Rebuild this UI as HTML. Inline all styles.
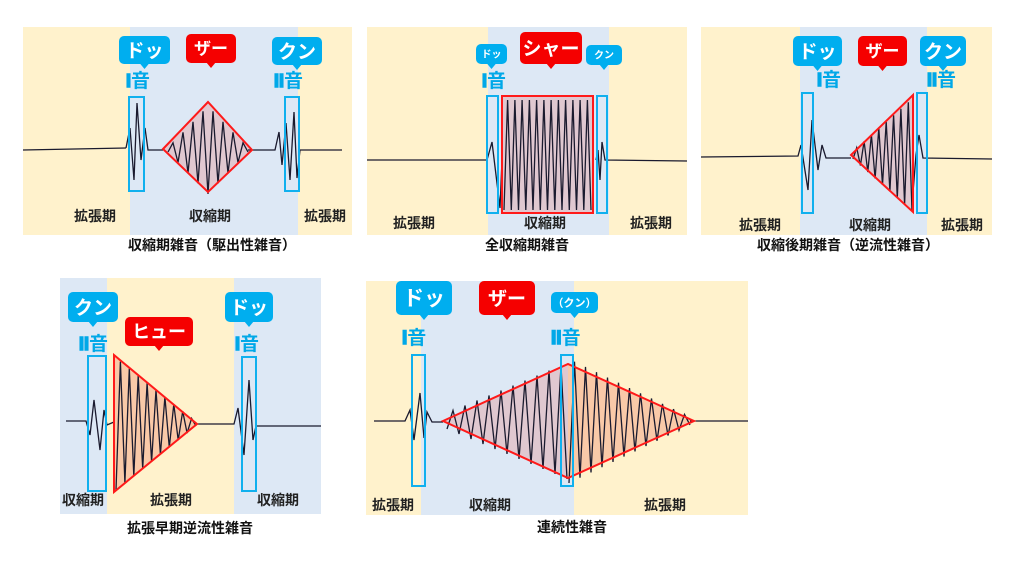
<!DOCTYPE html>
<html><head><meta charset="utf-8">
<style>
html,body{margin:0;padding:0;background:#fff;}
svg{display:block;}
text{font-family:"Liberation Sans","Noto Sans CJK JP",sans-serif;}
.lb{font-size:14px;font-weight:bold;fill:#222;text-anchor:middle;}
.cap{font-size:14px;font-weight:bold;fill:#111;text-anchor:middle;}
.bt{font-weight:bold;fill:#fff;text-anchor:middle;}
.on{font-size:19px;font-weight:bold;fill:#00a8e8;}
.on tspan{stroke:#00a8e8;stroke-width:1.5;}
</style></head><body>
<svg id="s" width="1024" height="576" viewBox="0 0 1024 576" xmlns="http://www.w3.org/2000/svg">
<rect x="23" y="27" width="329" height="208" fill="#fff2cc"/>
<rect x="130" y="27" width="168" height="208" fill="#dde8f5"/>
<rect x="367" y="27" width="320" height="208" fill="#fff2cc"/>
<rect x="488" y="27" width="121" height="208" fill="#dde8f5"/>
<rect x="701" y="27" width="291" height="208" fill="#fff2cc"/>
<rect x="800" y="27" width="127" height="208" fill="#dde8f5"/>
<rect x="60" y="278" width="261" height="236" fill="#dde8f5"/>
<rect x="107" y="278" width="127" height="236" fill="#fff2cc"/>
<rect x="366" y="281" width="382" height="234" fill="#fff2cc"/>
<rect x="421" y="281" width="153" height="234" fill="#dde8f5"/>

<polygon points="163,149 208,102 252,150 208,192" fill="#e0c8d0"/>
<rect x="502" y="96" width="91" height="117" fill="#e0c8d0"/>
<polygon points="851,155 913,95 913,212" fill="#e0c8d0"/>
<polygon points="114,355 114,492 197,424" fill="#f9c9a8"/>
<polygon points="443,421 568,364 568,478" fill="#e0c8d0"/>
<polygon points="568,364 694,421 568,478" fill="#f9c9a8"/>

<g id="waves" fill="none" stroke="#1a1a2e" stroke-width="1.3"></g>

<g fill="none" stroke="#ff1a1a" stroke-width="2">
<polygon points="163,149 208,102 252,150 208,192"/>
<rect x="502" y="96" width="91" height="117"/>
<polygon points="851,155 913,95 913,212"/>
<polygon points="114,355 114,492 197,424"/>
<polygon points="443,421 568,364 694,421 568,478"/>
</g>
<g fill="none" stroke="#10b0ee" stroke-width="2">
<rect x="129" y="97" width="15" height="94"/>
<rect x="285" y="97" width="14" height="94"/>
<rect x="487" y="96" width="11" height="117"/>
<rect x="597" y="96" width="10" height="117"/>
<rect x="802" y="93" width="11" height="120"/>
<rect x="917" y="93" width="10" height="120"/>
<rect x="88" y="356" width="18" height="135"/>
<rect x="242" y="357" width="14" height="134"/>
<rect x="412" y="355" width="13" height="131"/>
<rect x="561" y="355" width="12" height="131"/>
</g>

<g id="bub"></g>

<g class="on">
<text x="126" y="87"><tspan font-size="18">I</tspan>音</text>
<text x="274" y="87"><tspan font-size="18">II</tspan>音</text>
<text x="482" y="87"><tspan font-size="18">I</tspan>音</text>
<text x="817" y="86"><tspan font-size="18">I</tspan>音</text>
<text x="927" y="86"><tspan font-size="18">II</tspan>音</text>
<text x="79" y="350"><tspan font-size="18">II</tspan>音</text>
<text x="235" y="350"><tspan font-size="18">I</tspan>音</text>
<text x="402" y="344"><tspan font-size="19">I</tspan>音</text>
<text x="551" y="344"><tspan font-size="19">II</tspan>音</text>
</g>

<text class="lb" x="95" y="221">拡張期</text>
<text class="lb" x="210" y="221">収縮期</text>
<text class="lb" x="325" y="221">拡張期</text>
<text class="lb" x="414" y="228">拡張期</text>
<text class="lb" x="545" y="228">収縮期</text>
<text class="lb" x="651" y="228">拡張期</text>
<text class="lb" x="760" y="230">拡張期</text>
<text class="lb" x="870" y="230">収縮期</text>
<text class="lb" x="962" y="230">拡張期</text>
<text class="lb" x="83" y="505">収縮期</text>
<text class="lb" x="171" y="505">拡張期</text>
<text class="lb" x="278" y="505">収縮期</text>
<text class="lb" x="393" y="510" font-size="15">拡張期</text>
<text class="lb" x="490" y="510" font-size="15">収縮期</text>
<text class="lb" x="665" y="510" font-size="15">拡張期</text>

<text class="cap" x="212" y="250">収縮期雑音（駆出性雑音）</text>
<text class="cap" x="527" y="250">全収縮期雑音</text>
<text class="cap" x="848" y="250">収縮後期雑音（逆流性雑音）</text>
<text class="cap" x="190" y="533">拡張早期逆流性雑音</text>
<text class="cap" x="572" y="532" font-size="15">連続性雑音</text>
</svg>
<script>
var NS="http://www.w3.org/2000/svg";
var W=document.getElementById("waves"),B=document.getElementById("bub");
function pl(pts){var p=document.createElementNS(NS,"polyline");p.setAttribute("points",pts.map(function(a){return a[0].toFixed(1)+","+a[1].toFixed(1)}).join(" "));W.appendChild(p);}
function zig(x0,x1,n,cy,amp){var pts=[];for(var i=0;i<=n;i++){var t=i/n,x=x0+(x1-x0)*t;var a=amp(t);pts.push([x,cy+(i%2?-a:a)]);}return pts;}
pl([[23,150],[126,148]]);
pl([[126,148],[130,128],[134,180],[137,103],[141,160],[145,128],[148,150],[163,150]]);
pl(zig(168,248,16,150,function(t){return 42*(1-Math.abs(t-0.5)*2)+2;}));
pl([[248,150],[275,150],[279,132],[282,165],[286,123],[290,180],[294,112],[297,178],[300,150],[342,150]]);
pl([[367,160],[487,160],[492,142],[500,208],[502,160]]);
pl(zig(504,591,24,155,function(t){return 55;}));
pl([[596,160],[598,150],[600,180],[602,142],[605,160],[687,161]]);
pl([[701,157],[798,156],[801,145],[808,190],[812,120],[818,170],[822,145],[826,158],[851,158]]);
pl(zig(853,912,16,155,function(t){return 4+52*t;}));
pl([[912,205],[916,155],[919,135],[923,158],[992,159]]);
pl([[66,421],[86,421],[90,435],[94,400],[100,450],[104,410],[107,425],[114,422]]);
pl(zig(116,196,18,424,function(t){return 64*(1-t)+2;}));
pl([[196,424],[234,424],[238,408],[244,455],[249,380],[253,440],[256,426],[321,426]]);
pl([[374,421],[405,421],[410,410],[414,440],[420,393],[424,438],[427,412],[432,422],[443,422]]);
pl(zig(447,567,20,421,function(t){return 8+50*t;}));
pl(zig(569,690,22,421,function(t){return 58*(1-t)+4;}));
pl([[690,421],[748,421]]);
function bub(x,y,w,h,c,txt,fs){
 var g=document.createElementNS(NS,"g");
 var r=document.createElementNS(NS,"rect");r.setAttribute("x",x);r.setAttribute("y",y);r.setAttribute("width",w);r.setAttribute("height",h);r.setAttribute("rx",5);r.setAttribute("fill",c);g.appendChild(r);
 var cx=x+w/2;var p=document.createElementNS(NS,"polygon");p.setAttribute("points",(cx-5)+","+(y+h-1)+" "+(cx+5)+","+(y+h-1)+" "+cx+","+(y+h+5));p.setAttribute("fill",c);g.appendChild(p);
 var t=document.createElementNS(NS,"text");t.setAttribute("x",cx);t.setAttribute("y",y+h/2+fs*0.36);t.setAttribute("class","bt");t.setAttribute("font-size",fs);t.textContent=txt;g.appendChild(t);
 B.appendChild(g);}
var cy="#00aeef",rd="#f50000";
bub(119,36,51,28,cy,"ドッ",19);bub(186,34,50,29,rd,"ザー",17);bub(272,37,50,28,cy,"クン",19);
bub(476,44,31,20,cy,"ドッ",10);bub(520,32,62,32,rd,"シャー",19);bub(586,45,36,20,cy,"クン",10);
bub(793,36,49,30,cy,"ドッ",19);bub(858,36,49,30,rd,"ザー",17);bub(920,36,46,30,cy,"クン",19);
bub(68,292,50,30,cy,"クン",19);bub(125,317,68,29,rd,"ヒュー",18);bub(225,292,48,30,cy,"ドッ",19);
bub(396,281,56,34,cy,"ドッ",21);bub(479,281,56,34,rd,"ザー",19);bub(551,292,47,21,cy,"（クン）",11);
</script>
</body></html>
